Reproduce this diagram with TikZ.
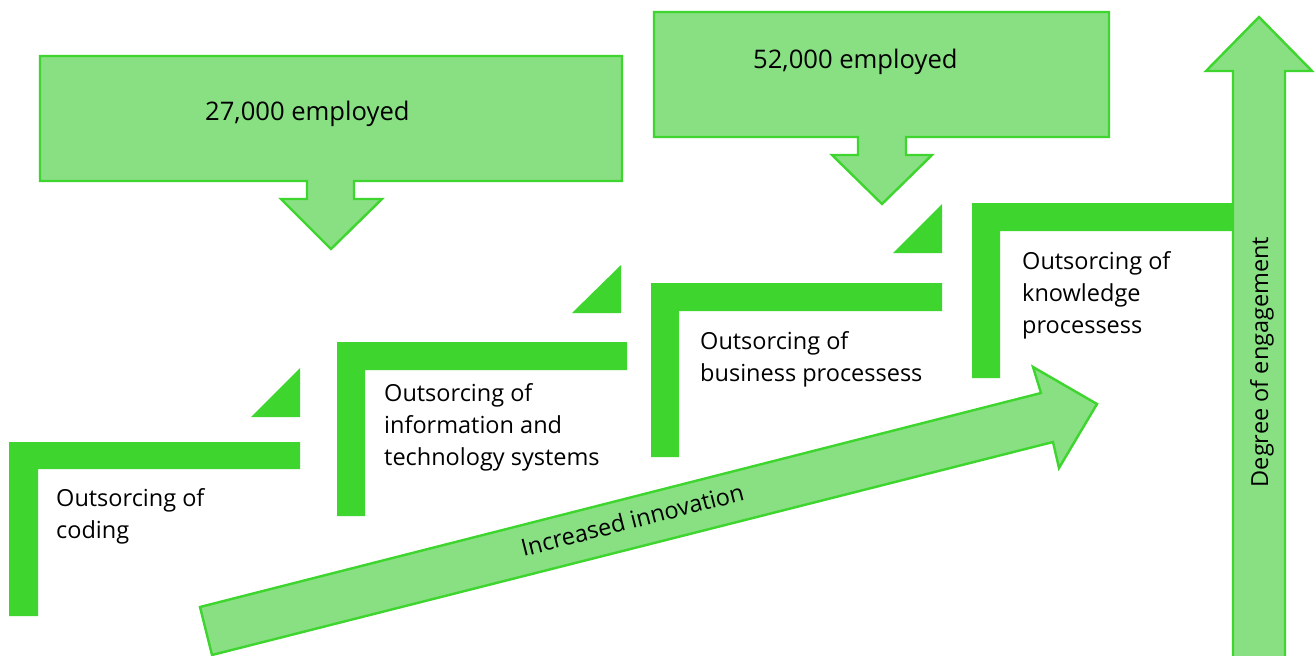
\documentclass[tikz,border=0pt]{standalone}
\usepackage{fontspec}
\setmainfont{Open Sans}
\definecolor{darkg}{RGB}{61,213,46}
\definecolor{lightg}{RGB}{136,224,131}
\begin{document}
\begin{tikzpicture}[x=1pt,y=-1pt,
  lstep/.style={fill=darkg,draw=none},
  tri/.style={fill=darkg,draw=none},
  bigarrow/.style={fill=lightg,draw=darkg,line width=2.4pt,line join=miter},
  body/.style={font=\fontsize{23.5}{31.7}\selectfont,inner sep=0pt,align=left,text=black},
  top/.style={font=\fontsize{25.6}{30}\selectfont,inner sep=0pt,text=black}]
\clip (0,0) rectangle (1315,656);
\fill[white] (0,0) rectangle (1315,656);
% callouts
\draw[bigarrow] (40,56)--(622,56)--(622,181)--(354,181)--(354,199)--(382,199)--(331,249)--(281,199)--(307,199)--(307,181)--(40,181)--cycle;
\draw[bigarrow] (654,12)--(1109,12)--(1109,137)--(906,137)--(906,155)--(932,155)--(882,204)--(832,155)--(858,155)--(858,137)--(654,137)--cycle;
\node[top,anchor=base west] (emp1) at (205,120) {27,000 employed};
\node[top,anchor=base west] (emp2) at (753,68) {52,000 employed};
% triangles
\fill[tri] (251,417)--(300,417)--(300,368)--cycle;
\fill[tri] (572,313)--(621,313)--(621,265)--cycle;
\fill[tri] (893,253)--(942,253)--(942,204)--cycle;
% L steps
\fill[lstep] (9,442)--(300,442)--(300,469)--(38,469)--(38,616)--(9,616)--cycle;
\fill[lstep] (337,342)--(627,342)--(627,370)--(365,370)--(365,516)--(337,516)--cycle;
\fill[lstep] (651,283)--(942,283)--(942,311)--(679,311)--(679,457)--(651,457)--cycle;
\fill[lstep] (972,203)--(1236,203)--(1236,231)--(1000,231)--(1000,378)--(972,378)--cycle;
% step texts (anchor at last line's baseline)
\node[body,anchor=base west] (s1) at (56,538) {Outsorcing of\\coding};
\node[body,anchor=base west] (s2) at (384,465) {Outsorcing of\\information and\\technology systems};
\node[body,anchor=base west] (s3) at (700,381) {Outsorcing of\\business processess};
\node[body,anchor=base west] (s4) at (1022,333) {Outsorcing of\\knowledge\\processess};
% diagonal arrow
\draw[bigarrow] (200,607)--(1041,393)--(1033,367)--(1097,404)--(1059,468)--(1053,442)--(212,655)--cycle;
\node[body,anchor=base,rotate=14.3] (inno) at (634.5,528.4) {Increased innovation};
% vertical arrow
\draw[bigarrow] (1233,680)--(1233,71)--(1206,71)--(1259,17)--(1312,71)--(1285,71)--(1285,680)--cycle;
\node[body,anchor=base,rotate=90] (deg) at (1268,362) {Degree of engagement};
\end{tikzpicture}
\end{document}
